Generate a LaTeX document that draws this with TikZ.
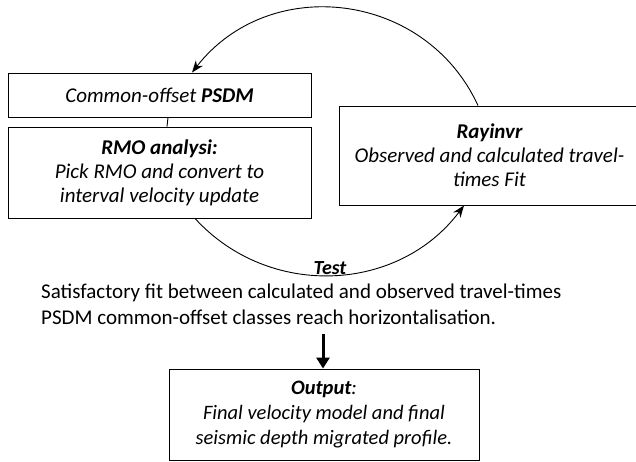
\documentclass[tikz,border=0pt]{standalone}
\usepackage{fontspec}
\setmainfont{Carlito}
\usetikzlibrary{arrows.meta}

\begin{document}
\begin{tikzpicture}[x=1pt, y=-1pt,
    box/.style={draw, line width=0.9pt, align=center, inner sep=0pt,
        font=\itshape\fontsize{21}{24}\selectfont},
    loop/.style={line width=0.9pt, -{Stealth[length=12pt, width=9pt]}}]
    \useasboundingbox (0,0) rectangle (636,462);

    % Nodes
    \node[box, minimum width=303pt, minimum height=44pt] (psdm) at (159.5,95) {Common-offset \textbf{PSDM}};
    \node[box, minimum width=303pt, minimum height=91pt] (rmo) at (159.5,172.5) {\textbf{RMO analysi:}\\Pick RMO and convert to\\interval velocity update};
    \node[box, minimum width=301pt, minimum height=99pt] (rayinvr) at (489.5,155.5) {\textbf{Rayinvr}\\Observed and calculated travel-\\times Fit};
    \node[font=\bfseries\itshape\fontsize{20}{24}\selectfont, inner sep=0pt] (test) at (330,268) {Test};
    \node[anchor=north west, align=left, inner sep=0pt, font=\fontsize{21}{26}\selectfont] (crit) at (41,284)
        {Satisfactory fit between calculated and observed travel-times\\PSDM common-offset classes reach horizontalisation.};
    \node[box, minimum width=310pt, minimum height=91pt, font=\itshape\fontsize{20.5}{25}\selectfont] (output) at (324,414.5) {\textbf{Output}:\\Final velocity model and final\\seismic depth migrated profile.};

    % Arrows
    \draw[line width=0.9pt] ([xshift=8.5pt]psdm.south) -- ([xshift=7.5pt]rmo.north);
    \draw[loop] ([xshift=-11.5pt]rayinvr.north) .. controls (425.5,-8.7) and (269.4,-26.7) .. ([xshift=32.5pt]psdm.north);
    \draw[loop] ([xshift=35.5pt]rmo.south) .. controls (268.8,299.2) and (398.4,293) .. ([xshift=-25.5pt]rayinvr.south);
    \draw[line width=3pt, -{Triangle[length=11pt, width=13pt]}] ([xshift=-1pt, yshift=35pt]output.north) -- ([xshift=-1pt]output.north);

\end{tikzpicture}
\end{document}
